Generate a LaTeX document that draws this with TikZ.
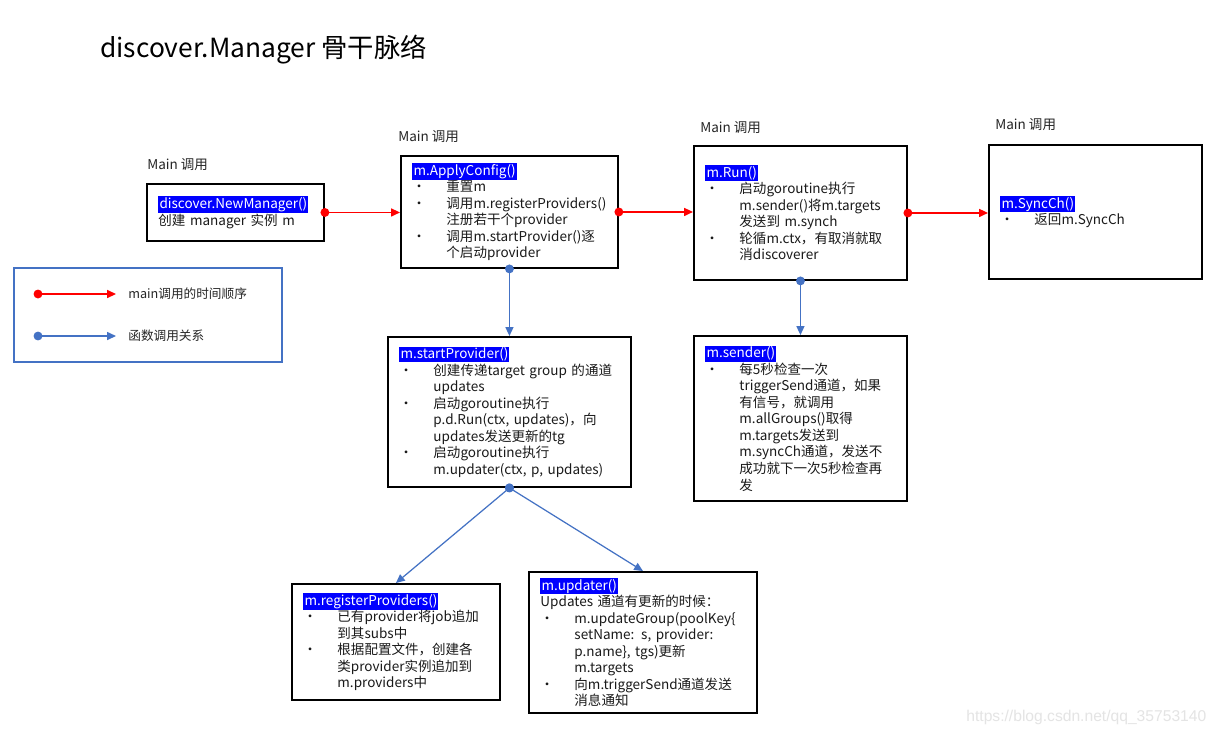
\documentclass[tikz,border=0pt]{standalone}
\usepackage{fontspec}
\setmainfont{Noto Sans CJK SC}
\newfontfamily\wmfont{Liberation Sans}
\usetikzlibrary{positioning, arrows.meta, calc}
\definecolor{mgblue}{HTML}{0000FF}
\definecolor{mgred}{HTML}{FF0000}
\definecolor{mgline}{HTML}{4472C4}
\definecolor{mgtext}{HTML}{1A1A1A}
\definecolor{mglabel}{HTML}{262626}
\definecolor{mgmark}{HTML}{E4E4E4}
\setlength{\fboxsep}{0.6pt}
\newcommand{\hdr}[1]{\colorbox{mgblue}{\textcolor{white}{#1}}}
\newcommand{\pbul}{\makebox[0.68cm][l]{•}}
\newcommand{\pind}{\hspace*{0.68cm}}

\begin{document}
\begin{tikzpicture}[x=0.02cm, y=-0.02cm,
    funcbox/.style={draw=black, line width=1.1pt, fill=white, inner xsep=0.23cm, inner ysep=2pt,
      align=left, anchor=north west, text=mgtext, font=\fontsize{7.7}{9.4}\selectfont},
    mainlbl/.style={anchor=west, inner sep=0pt, text=mglabel, font=\fontsize{7.7}{9.4}\selectfont},
    seqarrow/.style={draw=mgred, line width=0.8pt, shorten <=-2.5pt,
      {Circle[length=5pt]}-{Triangle[length=5pt, width=4.5pt]}},
    callarrow/.style={draw=mgline, line width=0.7pt, shorten <=-2.5pt,
      {Circle[length=5pt]}-{Triangle[length=5pt, width=4.5pt]}}]
  \fill[white] (0,0) rectangle (1219,735);
  \useasboundingbox (0,0) rectangle (1219,735);

  \node[anchor=west, inner sep=0pt, text=black, font=\fontsize{15}{18}\selectfont] (title) at (100,50) {discover.Manager 骨干脉络};

  \node[draw=mgline, line width=1.1pt, minimum width=5.36cm, minimum height=1.88cm, anchor=north west] (legend) at (13,267) {};
  \coordinate (seqa) at (38,294);
  \coordinate (seqb) at (116,294);
  \coordinate (calla) at (38,336);
  \coordinate (callb) at (116,336);
  \draw[seqarrow] (seqa) -- (seqb);
  \draw[callarrow] (calla) -- (callb);
  \node[mainlbl, font=\fontsize{7.2}{9}\selectfont] (seqtxt) at (128,294) {main调用的时间顺序};
  \node[mainlbl, font=\fontsize{7.2}{9}\selectfont] (calltxt) at (128,336) {函数调用关系};

  \node[mainlbl] (lblnew) at (147,165) {Main 调用};
  \node[mainlbl] (lblapply) at (398,137) {Main 调用};
  \node[mainlbl] (lblrun) at (700,128) {Main 调用};
  \node[mainlbl] (lblsync) at (995,125) {Main 调用};

  \node[funcbox, text width=3.08cm, minimum height=1.14cm] (newmgr) at (146,183) {\hdr{discover.NewManager()}\\
    创建 manager 实例 m};
  \node[funcbox, text width=3.88cm, minimum height=2.24cm] (apply) at (400,155) {\hdr{m.ApplyConfig()}\\
    \pbul 重置m\\
    \pbul 调用m.registerProviders()\\
    \pind 注册若干个provider\\
    \pbul 调用m.startProvider()逐\\
    \pind 个启动provider};
  \node[funcbox, text width=3.80cm, minimum height=2.68cm] (run) at (693,145) {\hdr{m.Run()}\\
    \pbul 启动goroutine执行\\
    \pind m.sender()将m.targets\\
    \pind 发送到 m.synch\\
    \pbul 轮循m.ctx，有取消就取\\
    \pind 消discoverer};
  \node[funcbox, text width=3.80cm, minimum height=2.68cm] (sync) at (988,144) {\hdr{m.SyncCh()}\\
    \pbul 返回m.SyncCh};
  \node[funcbox, text width=4.40cm, minimum height=3.0cm] (startp) at (387,336) {\hdr{m.startProvider()}\\
    \pbul 创建传递target group 的通道\\
    \pind updates\\
    \pbul 启动goroutine执行\\
    \pind p.d.Run(ctx, updates)，向\\
    \pind updates发送更新的tg\\
    \pbul 启动goroutine执行\\
    \pind m.updater(ctx, p, updates)};
  \node[funcbox, text width=3.80cm, minimum height=3.3cm] (sender) at (693,335) {\hdr{m.sender()}\\
    \pbul 每5秒检查一次\\
    \pind triggerSend通道，如果\\
    \pind 有信号，就调用\\
    \pind m.allGroups()取得\\
    \pind m.targets发送到\\
    \pind m.syncCh通道，发送不\\
    \pind 成功就下一次5秒检查再\\
    \pind 发};
  \node[funcbox, text width=3.70cm, minimum height=2.32cm] (regp) at (291,583) {\hdr{m.registerProviders()}\\
    \pbul 已有provider将job追加\\
    \pind 到其subs中\\
    \pbul 根据配置文件，创建各\\
    \pind 类provider实例追加到\\
    \pind m.providers中};
  \node[funcbox, text width=4.10cm, minimum height=2.82cm] (updater) at (528,571) {\hdr{m.updater()}\\
    Updates 通道有更新的时候：\\
    \pbul m.updateGroup(poolKey\{\\
    \pind setName: s, provider:\\
    \pind p.name\}, tgs)更新\\
    \pind m.targets\\
    \pbul 向m.triggerSend通道发送\\
    \pind 消息通知};

  \draw[seqarrow] (newmgr.east) -- (newmgr.east -| apply.west);
  \draw[seqarrow] (apply.east) -- (apply.east -| run.west);
  \draw[seqarrow] (run.east) -- (run.east -| sync.west);
  \draw[callarrow] (apply.south) -- (apply.south |- startp.north);
  \draw[callarrow] (run.south) -- (sender.north);
  \draw[callarrow] (startp.south) -- (regp.north);
  \draw[callarrow] (startp.south) -- (updater.north);

  \node[anchor=west, inner sep=0pt, text=mgmark, font=\wmfont\fontsize{8.9}{10}\selectfont] (mark) at (966,717) {https://blog.csdn.net/qq\_35753140};
\end{tikzpicture}
\end{document}
